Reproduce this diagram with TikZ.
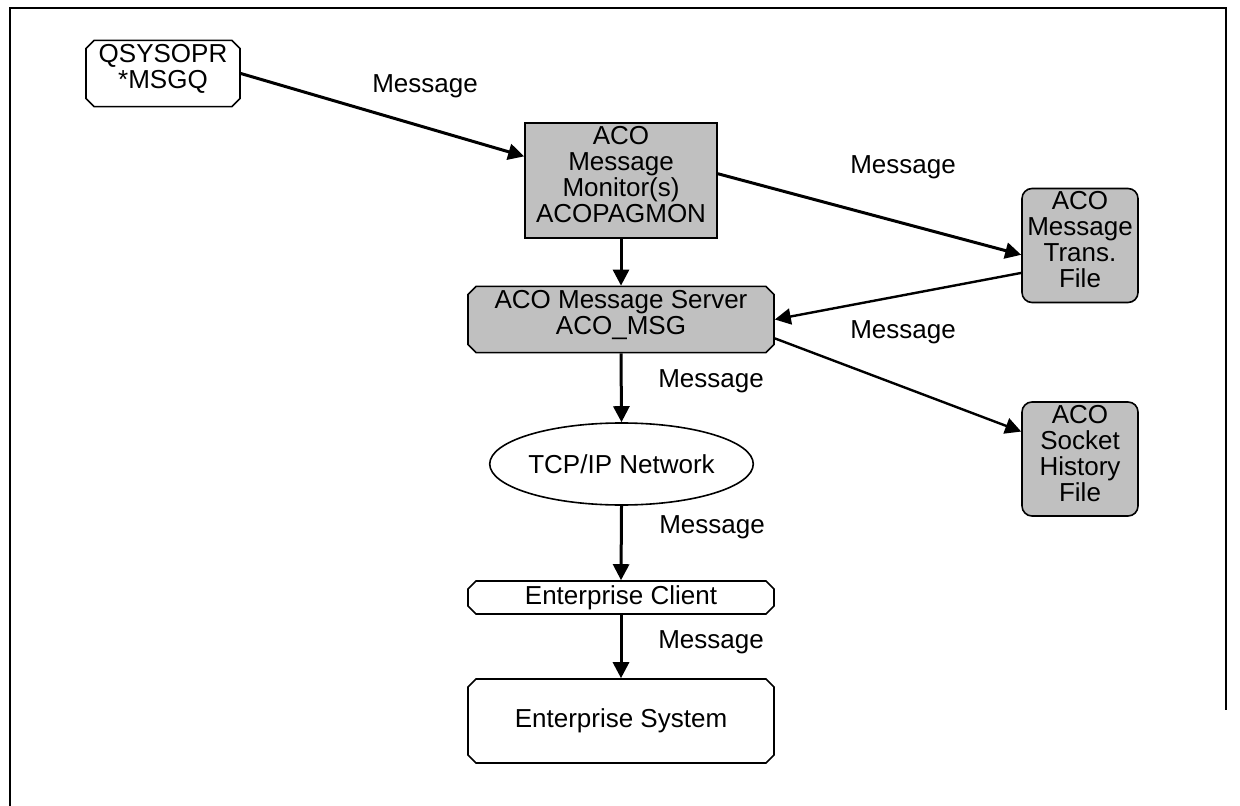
\documentclass[tikz,border=0pt]{standalone}
\usepackage{fontspec}
\setmainfont{Liberation Sans}
\usetikzlibrary{shapes.misc,shapes.geometric,arrows.meta}

\definecolor{boxgray}{HTML}{C0C0C0}

\begin{document}
\begin{tikzpicture}[
	x = 0.5pt, y = -0.5pt,
	every node/.style = {font=\fontsize{13}{13}\selectfont, align=center, inner sep=0},
	flow/.style = {-{Triangle[length=8pt,width=8pt]}, line width=1.5pt},
	cutbox/.style = {draw, line width=0.8pt, chamfered rectangle, chamfered rectangle xsep=2pt, chamfered rectangle ysep=2pt},
	filebox/.style = {draw, line width=0.8pt, fill=boxgray, rounded corners=5pt, minimum width=58pt, minimum height=57pt}
	]

	\useasboundingbox (0,0) rectangle (1240,806);
	\draw[line width=1pt] (10,806) -- (10,8) -- (1226,8) -- (1226,710);

	% boxes
	\node[cutbox, minimum width=77pt, minimum height=31.5pt] (qsysopr) at (163,73.5) {QSYSOPR\\*MSGQ\\[-6pt]\mbox{}};
	\node[draw, line width=0.8pt, fill=boxgray, minimum width=96pt, minimum height=57.5pt] (monitor) at (621,180.5) {ACO\\Message\\Monitor(s)\\ACOPAGMON\\[-7pt]\mbox{}};
	\node[cutbox, fill=boxgray, minimum width=153pt, minimum height=32.5pt] (server) at (621,319.5) {ACO Message Server\\ACO\_MSG\\[-6pt]\mbox{}};
	\node[filebox] (trans) at (1080,245.5) {ACO\\Message\\Trans.\\File\\[-7pt]\mbox{}};
	\node[filebox] (socket) at (1080,459) {ACO\\Socket\\History\\File\\[-7pt]\mbox{}};
	\node[draw, line width=0.8pt, ellipse, minimum width=115.5pt, minimum height=41pt] (network) at (621.5,464) {TCP/IP Network};
	\node[cutbox, minimum width=153pt, minimum height=16.5pt] (client) at (621,597.5) {Enterprise Client};
	\node[cutbox, minimum width=153pt, minimum height=42pt] (system) at (621,721) {Enterprise System};

	% labels
	\node (msg1) at (425,86) {Message};
	\node (msg2) at (903,167) {Message};
	\node (msg3) at (903,332) {Message};
	\node (msg4) at (711,381) {Message};
	\node (msg5) at (712,527) {Message};
	\node (msg6) at (711,642) {Message};

	% connectors
	\draw[flow] (qsysopr.east) -- (monitor.166);
	\draw[flow] (monitor.4) -- (trans.189);
	\draw[flow, line width=1.2pt] (trans.205) -- (server.east);
	\draw[flow, line width=1.2pt] (server.-7) -- (socket.155);
	\draw[flow] (monitor.south) -- (server.north);
	\draw[flow] (server.south) -- (network.north);
	\draw[flow] (network.south) -- (client.north);
	\draw[flow] (client.south) -- (system.north);

\end{tikzpicture}
\end{document}
